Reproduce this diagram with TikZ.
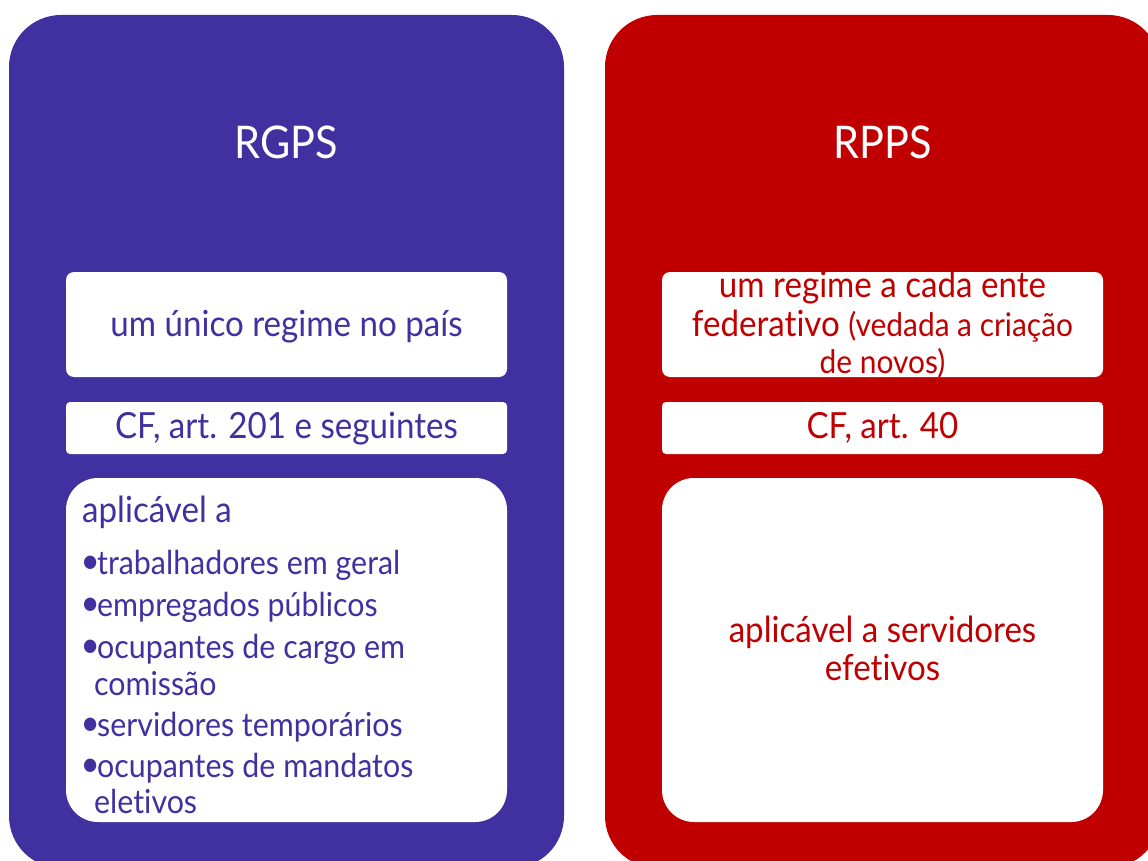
\documentclass[tikz,border=0pt]{standalone}
\usepackage{fontspec}
\setmainfont{Lato}[FakeStretch=0.92, Ligatures={NoCommon}]
\definecolor{rgpsblue}{RGB}{65,48,160}
\definecolor{rppsred}{RGB}{192,0,0}
\newcommand{\blt}{\makebox[15pt][l]{\hspace{-1.5pt}\fontsize{36}{30}\selectfont\raisebox{0.5pt}{•}}}
\tikzset{
  panel/.style={rounded corners=52pt, inner sep=0pt, outer sep=0pt},
  whitebox/.style={fill=white, inner sep=0pt, outer sep=0pt, minimum width=441pt},
  title/.style={text=white, font=\fontsize{45}{50}\selectfont, anchor=base, inner sep=0pt},
  body/.style={font=\fontsize{36}{40}\selectfont, anchor=base, inner sep=0pt},
  small/.style={font=\fontsize{32.5}{36}\selectfont, anchor=base, inner sep=0pt},
  bodyl/.style={font=\fontsize{36}{40}\selectfont, anchor=base west, inner sep=0pt},
  listl/.style={font=\fontsize{33}{36}\selectfont, anchor=base west, inner sep=0pt}
}
\begin{document}
\begin{tikzpicture}[x=1pt,y=-1pt]
\useasboundingbox (0,0) rectangle (1148,861);
\clip (0,0) rectangle (1148,861);
% panels
\node[panel, fill=rgpsblue, minimum width=555pt, minimum height=853pt] (bluepanel) at (286.5,441.5) {};
\node[panel, fill=rppsred, minimum width=555pt, minimum height=853pt] (redpanel) at (882.5,441.5) {};
% titles
\node[title] (rgps) at (286.5,159) {RGPS};
\node[title] (rpps) at (882.5,159) {RPPS};
% white boxes (blue)
\node[whitebox, rounded corners=8pt, minimum height=105pt] (b1) at (286.5,324.5) {};
\node[whitebox, rounded corners=4pt, minimum height=52pt] (b2) at (286.5,428) {};
\node[whitebox, rounded corners=32pt, minimum height=344pt] (b3) at (286.5,650) {};
% white boxes (red)
\node[whitebox, rounded corners=8pt, minimum height=105pt] (r1) at (882.5,324.5) {};
\node[whitebox, rounded corners=4pt, minimum height=52pt] (r2) at (882.5,428) {};
\node[whitebox, rounded corners=32pt, minimum height=344pt] (r3) at (882.5,650) {};
% blue texts
\begin{scope}[every node/.append style={text=rgpsblue}]
\node[body] (b1t) at (286.5,336) {um único regime no país};
\node[body] (b2t) at (286.5,438) {CF, art. 201 e seguintes};
\node[bodyl] (b3a) at (82,522) {aplicável a};
\node[listl] (b3b) at (82,574) {\blt trabalhadores em geral};
\node[listl] (b3c) at (82,616) {\blt empregados públicos};
\node[listl] (b3d) at (82,658) {\blt ocupantes de cargo em};
\node[listl] (b3e) at (94,695) {comissão};
\node[listl] (b3f) at (82,736) {\blt servidores temporários};
\node[listl] (b3g) at (82,777) {\blt ocupantes de mandatos};
\node[listl] (b3h) at (94,813) {eletivos};
\end{scope}
% red texts
\begin{scope}[every node/.append style={text=rppsred}]
\node[body] (r1a) at (882.5,297) {um regime a cada ente};
\node[body] (r1b) at (882.5,336) {federativo {\fontsize{32.5}{36}\selectfont (vedada a criação}};
\node[small] (r1c) at (882.5,373) {de novos)};
\node[body] (r2t) at (882.5,438) {CF, art. 40};
\node[body] (r3a) at (882.5,642) {aplicável a servidores};
\node[body] (r3b) at (882.5,680) {efetivos};
\end{scope}
\end{tikzpicture}
\end{document}
